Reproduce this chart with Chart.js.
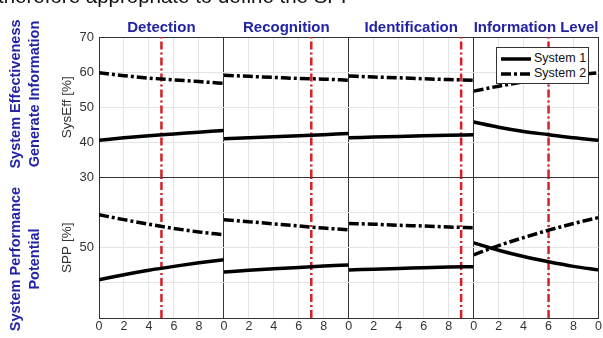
<!DOCTYPE html>
<html>
<head>
<meta charset="utf-8">
<script src="https://cdn.jsdelivr.net/npm/chart.js@4.4.0/dist/chart.umd.min.js"></script>
<style>
  html, body { margin: 0; padding: 0; background: #fff; }
  #wrap { position: relative; width: 603px; height: 338px; overflow: hidden; font-family: Arial, "Liberation Sans", sans-serif; }
  #chart { position: absolute; left: 0; top: 0; }
  .caption { position: absolute; left: -2px; top: -16px; font-size: 20.5px; color: #111; white-space: nowrap; }
  .rowlabel { position: absolute; color: #2323a5; font-weight: bold; font-size: 14.5px; line-height: 19px;
              text-align: center; white-space: nowrap; transform: translate(-50%, -50%) rotate(-90deg); }
  #legend { position: absolute; left: 496px; top: 47px; width: 91px; height: 35px; background: #fff;
            border: 1px solid #333; font-size: 12.5px; color: #111; }
  #legend div { position: absolute; left: 4px; height: 14px; line-height: 14px; }
  #legend svg { vertical-align: middle; margin-right: 3px; }
</style>
</head>
<body>
<div id="wrap">
  <canvas id="chart" width="603" height="338"></canvas>
  <div class="caption">therefore appropriate to define the SPP</div>
  <div class="rowlabel" style="left:25px; top:94px;">System Effectiveness<br>Generate Information</div>
  <div class="rowlabel" style="left:25px; top:259px;">System Performance<br>Potential</div>
  <div id="legend">
    <div style="top:3px;"><svg width="30" height="6"><line x1="0" y1="3" x2="30" y2="3" stroke="#000" stroke-width="3.5"/></svg>System 1</div>
    <div style="top:18px;"><svg width="30" height="6"><line x1="0" y1="3" x2="30" y2="3" stroke="#000" stroke-width="3.5" stroke-dasharray="10,3,3,3"/></svg>System 2</div>
  </div>
</div>
<script>
// panel columns and x positions of the samples
const panels = ['Detection', 'Recognition', 'Identification', 'Information Level'];
const xs = [0, 2, 4, 6, 8, 10];
// red dash-dot marker per column
const markerX = [5, 7, 9, 6];

// SysEff [%] (top row)
const effSys1 = [
  [40.6, 41.3, 41.9, 42.4, 42.9, 43.4],
  [41.0, 41.3, 41.6, 41.9, 42.2, 42.5],
  [41.3, 41.5, 41.7, 41.9, 42.0, 42.2],
  [45.8, 44.3, 43.1, 42.2, 41.3, 40.6]
];
const effSys2 = [
  [59.8, 59.0, 58.3, 57.8, 57.3, 56.8],
  [59.1, 58.8, 58.5, 58.2, 58.0, 57.7],
  [58.9, 58.6, 58.4, 58.1, 57.9, 57.7],
  [54.6, 56.0, 57.2, 58.2, 59.1, 59.8]
];

// SPP [%] (bottom row)
const sppSys1 = [
  [40.9, 42.3, 43.6, 44.7, 45.7, 46.6],
  [43.1, 43.6, 44.0, 44.4, 44.8, 45.1],
  [43.7, 43.9, 44.1, 44.3, 44.5, 44.6],
  [51.4, 49.3, 47.5, 46.0, 44.7, 43.7]
];
const sppSys2 = [
  [59.4, 58.0, 56.7, 55.5, 54.5, 53.7],
  [58.0, 57.4, 56.8, 56.2, 55.6, 55.1],
  [56.9, 56.7, 56.4, 56.2, 55.9, 55.7],
  [48.0, 50.6, 52.9, 55.0, 56.9, 58.6]
];

const effTicks = [30, 40, 50, 60, 70];
const sppTicks = [30, 40, 50, 60, 70];
const sppLabels = ['', '', '50', '', ''];

const blue = '#2323a5';
const textGray = '#333';

function curve(vals, xId, yId, dashed) {
  return {
    data: xs.map((x, i) => ({ x: x, y: vals[i] })),
    xAxisID: xId,
    yAxisID: yId,
    borderColor: '#000',
    borderWidth: 3.5,
    borderDash: dashed ? [10, 3, 3, 3] : [],
    pointRadius: 0,
    cubicInterpolationMode: 'monotone',
    fill: false
  };
}

function marker(x, xId, yId, ticks) {
  return {
    data: [{ x: x, y: ticks[0] }, { x: x, y: ticks[ticks.length - 1] }],
    xAxisID: xId,
    yAxisID: yId,
    borderColor: '#d61f26',
    borderWidth: 2.5,
    borderDash: [8, 3, 2, 3],
    pointRadius: 0,
    fill: false
  };
}

const datasets = [];
panels.forEach((p, i) => {
  const xId = 'x' + i;
  datasets.push(curve(effSys1[i], xId, 'yEff', false));
  datasets.push(curve(effSys2[i], xId, 'yEff', true));
  datasets.push(curve(sppSys1[i], xId, 'ySpp', false));
  datasets.push(curve(sppSys2[i], xId, 'ySpp', true));
  datasets.push(marker(markerX[i], xId, 'yEff', effTicks));
  datasets.push(marker(markerX[i], xId, 'ySpp', sppTicks));
});

const edgeColor = '#333';
const gridColor = '#e4e4e4';

const scales = {};
panels.forEach((p, i) => {
  scales['x' + i] = {
    type: 'linear',
    position: 'bottom',
    stack: 'cols',
    stackWeight: 1,
    min: 0,
    max: 10,
    ticks: {
      stepSize: 2,
      padding: 1,
      autoSkip: false,
      maxRotation: 0,
      color: textGray,
      font: { family: 'Arial', size: 12.5 },
      callback: v => (v === 10 ? (i === panels.length - 1 ? '0' : '') : String(v))
    },
    grid: {
      drawTicks: false,
      color: c => (c.tick && (c.tick.value === 0 || c.tick.value === 10)) ? edgeColor : gridColor
    },
    border: { color: edgeColor },
    afterFit: s => { s.height = 20; }
  };
});
// top stacks are laid out in reverse order, so add the titles last-to-first
panels.slice().reverse().forEach((p, k) => {
  scales['t' + k] = {
    type: 'linear',
    position: 'top',
    stack: 'titles',
    stackWeight: 1,
    ticks: { display: false },
    grid: { display: false },
    border: { display: false },
    title: { display: true, text: p, color: blue, font: { family: 'Arial', size: 15, weight: 'bold' }, padding: { top: 19, bottom: 0 } },
    afterFit: s => { s.height = 37; }
  };
});

function yGrid(ticks) {
  return {
    drawTicks: false,
    color: c => (c.tick && (c.tick.value === ticks[0] || c.tick.value === ticks[ticks.length - 1])) ? edgeColor : gridColor
  };
}

// bottom row first: left stacks are laid out in reverse order
scales.ySpp = {
  type: 'linear',
  position: 'left',
  stack: 'rows',
  stackWeight: 1,
  min: sppTicks[0],
  max: sppTicks[sppTicks.length - 1],
  ticks: {
    stepSize: 10,
    padding: 5,
    color: textGray,
    font: { family: 'Arial', size: 13 },
    callback: v => sppLabels[sppTicks.indexOf(v)] || ''
  },
  grid: yGrid(sppTicks),
  border: { color: edgeColor },
  title: { display: true, text: 'SPP [%]', color: textGray, font: { family: 'Arial', size: 13.5 }, padding: { top: 59, bottom: 0 } },
  afterFit: s => { s.width = 99; }
};
scales.yEff = {
  type: 'linear',
  position: 'left',
  stack: 'rows',
  stackWeight: 1,
  min: effTicks[0],
  max: effTicks[effTicks.length - 1],
  ticks: {
    stepSize: 10,
    padding: 5,
    color: textGray,
    font: { family: 'Arial', size: 13 }
  },
  grid: yGrid(effTicks),
  border: { color: edgeColor },
  title: { display: true, text: 'SysEff [%]', color: textGray, font: { family: 'Arial', size: 13.5 }, padding: { top: 59, bottom: 0 } },
  afterFit: s => { s.width = 99; }
};

new Chart(document.getElementById('chart').getContext('2d'), {
  type: 'line',
  data: { datasets: datasets },
  options: {
    responsive: false,
    animation: false,
    layout: { padding: { left: 0, right: 4, top: 0, bottom: 0 } },
    plugins: {
      legend: { display: false },
      tooltip: { enabled: false }
    },
    scales: scales
  }
});
</script>
</body>
</html>
